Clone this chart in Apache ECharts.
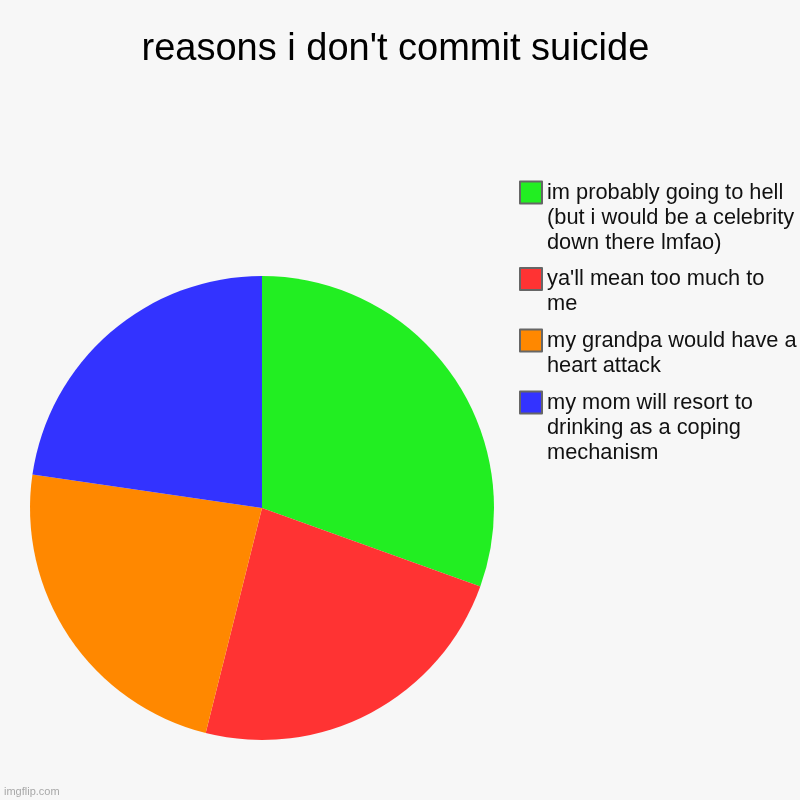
<!DOCTYPE html>
<html>
<head>
<meta charset="utf-8">
<script src="https://cdn.jsdelivr.net/npm/echarts@6/dist/echarts.min.js"></script>
<style>
html,body{margin:0;padding:0;background:#f7f7f7;}
#chart{width:800px;height:800px;}
</style>
</head>
<body>
<div id="chart"></div>
<script>
const titleText = "reasons i don't commit suicide";
const categories = [
  "im probably going to hell (but i would be a celebrity down there lmfao)",
  "ya'll mean too much to me",
  "my grandpa would have a heart attack",
  "my mom will resort to drinking as a coping mechanism"
];
const legendLines = [
  ["im probably going to hell", "(but i would be a celebrity", "down there lmfao)"],
  ["ya'll mean too much to", "me"],
  ["my grandpa would have a", "heart attack"],
  ["my mom will resort to", "drinking as a coping", "mechanism"]
];
const values = [30.5, 23.4, 23.4, 22.7];
const colors = ["#22ee22", "#ff3333", "#ff8800", "#3333ff"];

const FONT = "'Liberation Sans', Arial, sans-serif";
const LINE_H = 25;
const ICON = 22;
const legendTops = [181.5, 268, 329.5, 391.5]; // icon top positions

const legends = categories.map((name, i) => {
  const n = legendLines[i].length;
  const total = 2 * n - 1; // (n-1) blank lines before content so first line is centred on icon
  const boxTop = ICON / 2 - (total * LINE_H) / 2;
  return {
    orient: 'vertical',
    left: 519,
    top: legendTops[i] + boxTop,
    padding: 0,
    itemWidth: ICON,
    itemHeight: ICON,
    icon: 'rect',
    selectedMode: false,
    itemStyle: { borderColor: '#666666', borderWidth: 2 },
    data: [name],
    formatter: (nm) => {
      const lines = legendLines[categories.indexOf(nm)];
      return new Array(lines.length - 1).fill('').concat(lines).join('\n');
    },
    textStyle: {
      fontFamily: FONT,
      fontSize: 21.8,
      lineHeight: LINE_H,
      color: '#111111'
    }
  };
});

const chart = echarts.init(document.getElementById('chart'), null, { renderer: 'canvas' });
chart.setOption({
  backgroundColor: '#f7f7f7',
  animation: false,
  title: [
    {
      text: titleText,
      left: 141.5,
      top: 31,
      padding: 0,
      textStyle: { fontFamily: FONT, fontSize: 38, fontWeight: 'normal', color: '#000000' }
    },
    {
      text: 'imgflip.com',
      left: 4,
      bottom: 3,
      padding: 0,
      textStyle: { fontFamily: FONT, fontSize: 11, fontWeight: 'normal', color: '#a8a8a8' }
    }
  ],
  legend: legends,
  series: [{
    type: 'pie',
    center: [262, 508],
    radius: 232,
    startAngle: 90,
    clockwise: true,
    label: { show: false },
    labelLine: { show: false },
    emphasis: { disabled: true },
    itemStyle: { borderWidth: 0 },
    data: categories.map((name, i) => ({ name, value: values[i], itemStyle: { color: colors[i] } }))
  }]
});
</script>
</body>
</html>
